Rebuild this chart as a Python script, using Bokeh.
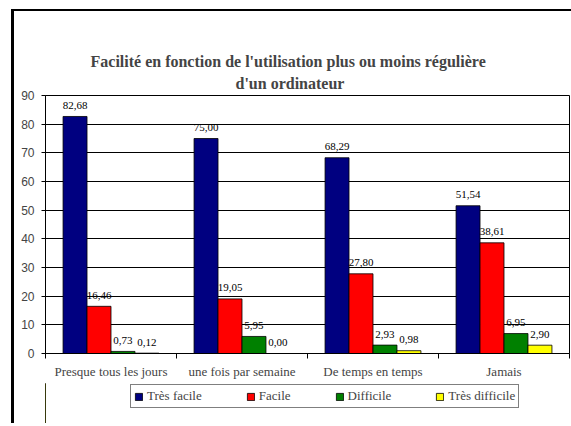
import numpy as np
from bokeh.plotting import figure
from bokeh.layouts import column
from bokeh.models import (ColumnDataSource, FixedTicker, Range1d, Legend, LegendItem,
                          Title, LabelSet)
from bokeh.embed import file_html
from bokeh.resources import INLINE

# ---- data ----
categories = ["Presque tous les jours", "une fois par semaine", "De temps en temps", "Jamais"]
series_names = ["Très facile", "Facile", "Difficile", "Très difficile"]
tres_facile = [82.68, 75.00, 68.29, 51.54]
facile = [16.46, 19.05, 27.80, 38.61]
difficile = [0.73, 5.95, 2.93, 6.95]
tres_difficile = [0.12, 0.00, 0.98, 2.90]
y_ticks = [0, 10, 20, 30, 40, 50, 60, 70, 80, 90]
title_line1 = "Facilité en fonction de l'utilisation plus ou moins régulière"
title_line2 = "d'un ordinateur"

series_values = [tres_facile, facile, difficile, tres_difficile]
colors = ["#000080", "#FF0000", "#008000", "#FFFF00"]

SERIF = "Liberation Serif"
SANS = "Liberation Sans"

W = 557
p = figure(width=W, height=372, x_range=Range1d(0, len(categories)),
           y_range=Range1d(0, 90), output_backend="svg", toolbar_location=None,
           min_border_left=31, min_border_right=2, min_border_top=84,
           min_border_bottom=30)

p.background_fill_color = "white"
p.border_fill_color = "white"
p.outline_line_color = "black"
p.outline_line_width = 1

# titles (two lines)
p.title.text = title_line1
p.title.text_font = SERIF
p.title.text_font_style = "bold"
p.title.text_font_size = "16px"
p.title.align = "left"
p.title.offset = 45
p.title.standoff = 0
t2 = Title(text=title_line2, text_font=SERIF, text_font_style="bold",
           text_font_size="16px", align="left", offset=190, standoff=7)
p.add_layout(t2, "above")

bar_w = 0.183
centers = np.arange(len(categories)) + 0.5
for i, (name, vals, col) in enumerate(zip(series_names, series_values, colors)):
    xs = centers + (i - 1.5) * bar_w
    src = ColumnDataSource(dict(x=xs, top=vals,
                                lab=[f"{v:.2f}".replace(".", ",") for v in vals]))
    p.vbar(x="x", top="top", bottom=0, width=bar_w, source=src,
           fill_color=col, line_color="black", line_width=0.8)
    ls = LabelSet(x="x", y="top", text="lab", source=src, text_align="center",
                  text_baseline="middle", y_offset=11, text_font=SERIF,
                  text_font_size="11px", text_color="black")
    p.add_layout(ls)

# grid
p.xgrid.grid_line_color = None
p.ygrid.ticker = FixedTicker(ticks=y_ticks)
p.ygrid.grid_line_color = "black"
p.ygrid.grid_line_width = 1

# y axis
p.yaxis.ticker = FixedTicker(ticks=y_ticks)
p.yaxis.major_tick_out = 4
p.yaxis.major_tick_in = 0
p.yaxis.minor_tick_line_color = None
p.yaxis.major_label_standoff = 7
p.yaxis.major_label_text_font = SANS
p.yaxis.major_label_text_font_size = "12px"
p.yaxis.axis_line_color = "black"
p.yaxis.major_tick_line_color = "black"

# x axis: labels at centers, tick marks at boundaries
p.xaxis.ticker = FixedTicker(ticks=list(centers),
                             minor_ticks=list(range(len(categories) + 1)))
p.xaxis.major_label_overrides = {float(c): cat for c, cat in zip(centers, categories)}
p.xaxis.major_tick_out = 0
p.xaxis.major_tick_in = 0
p.xaxis.minor_tick_out = 5
p.xaxis.minor_tick_in = 0
p.xaxis.minor_tick_line_color = "black"
p.xaxis.major_label_standoff = 5
p.xaxis.major_label_text_font = SERIF
p.xaxis.major_label_text_font_size = "13px"
p.xaxis.axis_line_color = "black"

# legend strip below the chart (same side borders as the chart)
pl = figure(width=W, height=40, x_range=Range1d(0, 1), y_range=Range1d(0, 1),
            output_backend="svg", toolbar_location=None,
            x_axis_type=None, y_axis_type=None,
            min_border_left=31, min_border_right=2, min_border_top=0, min_border_bottom=0)
pl.outline_line_color = None
pl.background_fill_color = "white"
pl.border_fill_color = "white"
leg_rs = []
for name, col in zip(series_names, colors):
    r = pl.vbar(x=[-5.0], top=[1.0], width=0.1, fill_color=col,
                line_color="black", line_width=0.8)
    leg_rs.append(r)
legend = Legend(items=[LegendItem(label=n, renderers=[r]) for n, r in zip(series_names, leg_rs)],
                orientation="horizontal", location=(85, 15),
                border_line_color="black", border_line_width=1,
                background_fill_color="white",
                padding=3, spacing=44, label_standoff=4,
                glyph_width=9, glyph_height=9, label_height=14,
                label_text_font=SERIF, label_text_font_size="13px",
                margin=0)
pl.add_layout(legend)

layout = column(p, pl, spacing=0)
layout.styles = {"border-left": "3px solid black", "border-top": "2px solid black",
                 "margin-left": "11px", "margin-top": "9px"}

open("out.html", "w").write(file_html(layout, INLINE))
